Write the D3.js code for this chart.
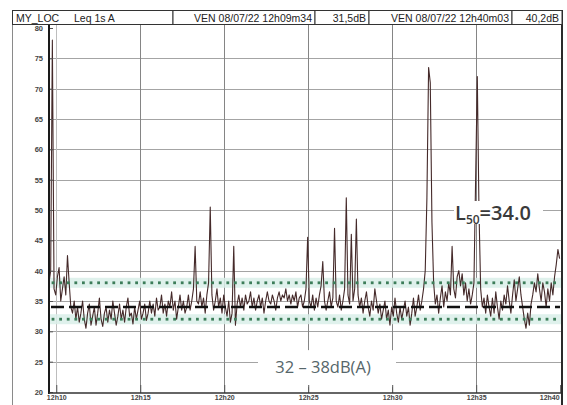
<!DOCTYPE html>
<html>
<head>
<meta charset="utf-8">
<script src="https://cdn.jsdelivr.net/npm/d3@7/dist/d3.min.js"></script>
<style>
  html, body { margin: 0; padding: 0; background: #fff; }
  svg { display: block; }
</style>
</head>
<body>
<svg id="chart" width="567" height="405"></svg>
<script>
// ---- data ----
const headerLabels = ["MY_LOC", "Leq 1s  A", "VEN 08/07/22 12h09m34", "31,5dB", "VEN 08/07/22 12h40m03", "40,2dB"];
const startClock = "12:09:34";
const endClock = "12:40:03";
const stepSeconds = 6;
const yTickValues = [20, 25, 30, 35, 40, 45, 50, 55, 60, 65, 70, 75, 80];
const xTickClocks = ["12:10", "12:15", "12:20", "12:25", "12:30", "12:35", "12:40"];
const xTickLabels = ["12h10", "12h15", "12h20", "12h25", "12h30", "12h35", "12h40"];
const l50Value = 34.0;
const bandRange = [32, 38];
const bandLabel = "32 – 38dB(A)";

// Leq 1s level (dB A), one reading every stepSeconds from startClock
const leqValues = [
  38, 40, 78, 37, 36, 39, 40.5, 35, 37, 39, 36, 42.5, 38, 34, 33, 35, 32, 34, 31.5, 33,
  35, 32, 30.5, 33, 34.5, 31, 32.5, 34, 31, 33, 35.5, 32, 30.8, 33, 34, 31.5, 33.5, 32, 35, 33,
  31, 32.5, 34.5, 32, 33.5, 31.5, 34, 35.5, 32.5, 33, 31.2, 34, 32, 33.5, 35, 32, 33, 34.5, 31.8, 33,
  35, 33, 34.5, 32.5, 35.5, 33.5, 34, 36, 33, 34.5, 32.5, 35, 34, 36.5, 33.5, 35, 32, 34, 36, 33.5,
  35, 33, 34, 36, 33.5, 35, 37, 44, 35, 34.5, 36.5, 34, 35.5, 33, 36, 38, 50.5, 36, 33.5, 35,
  37, 34, 35.5, 33, 36, 34, 32.5, 35, 31.5, 33, 44, 31, 34.5, 36, 34, 35.5, 33.5, 36, 34.5, 35,
  36.5, 34, 35.5, 33.5, 35, 36, 34, 35.5, 33, 35, 36.5, 35, 34.5, 36, 35, 33.5, 35.5, 36.5, 35, 36,
  35.5, 37, 35, 36, 34.5, 36, 35, 36.5, 34, 35.5, 36, 34, 35, 37, 45.5, 35, 34, 36, 33.5, 35.5,
  34, 36, 37.5, 41.5, 35, 33.5, 35, 36.5, 34, 35.5, 47, 35, 34, 36, 33.5, 35, 37, 52, 36, 34.5,
  46, 35, 37, 48.5, 36, 34, 35.5, 33, 35, 36.5, 34, 32.5, 35, 33.5, 37, 35, 33, 34.5, 32, 33.5,
  35, 32, 33.5, 31, 34, 32.5, 35.5, 33, 31.5, 34, 32, 33.5, 35, 32.5, 34, 31, 33, 35.5, 32.5, 34,
  36, 33.5, 35, 37, 40, 52, 73.5, 71, 48, 38, 34.5, 36, 33, 35.5, 37.5, 34, 36.5, 35, 38, 36,
  44, 37, 35.5, 39, 40, 37.5, 39.5, 36, 38, 35, 37, 34.5, 36, 38, 55, 72, 50, 37, 34, 35.5,
  33, 36, 34, 32.5, 35.5, 33, 36.5, 34, 32, 35, 33.5, 36, 34.5, 37.5, 35, 33, 36, 38.5, 35, 37,
  39, 36, 34, 32, 30.5, 33, 31, 34.5, 36, 38, 36.5, 39.5, 37, 35, 38, 36.5, 34, 37, 35, 38,
  36, 39, 41, 43.5, 42
];

// ---- layout ----
const svg = d3.select("#chart");
const plot = { left: 49, right: 562, top: 25, bottom: 393 };
const parseClock = d3.timeParse("%H:%M:%S");
const parseTick = d3.timeParse("%H:%M");
const t0 = parseClock(startClock);
const t1 = parseClock(endClock);

const x = d3.scaleTime().domain([t0, t1]).range([plot.left, plot.right - 1]);
const y = d3.scaleLinear().domain([20, 80]).range([392, 28]);

const series = leqValues.map((v, i) => ({ t: new Date(t0.getTime() + i * stepSeconds * 1000), v }));
const xTicks = xTickClocks.map(parseTick);

svg.append("rect").attr("width", 567).attr("height", 405).attr("fill", "#fff");

// ---- grid ----
const grid = svg.append("g");
grid.selectAll("line.h").data(yTickValues.filter(v => v > 20 && v < 80)).join("line")
  .attr("x1", plot.left).attr("x2", plot.right)
  .attr("y1", d => Math.round(y(d)) + 0.5).attr("y2", d => Math.round(y(d)) + 0.5)
  .attr("stroke", "#a4a4a4").attr("stroke-width", 1);
grid.selectAll("line.v").data(xTicks.slice(0, -1)).join("line")
  .attr("x1", d => Math.round(x(d)) + 0.5).attr("x2", d => Math.round(x(d)) + 0.5)
  .attr("y1", plot.top).attr("y2", plot.bottom)
  .attr("stroke", (d, i) => i === 0 ? "#bdbdbd" : "#858585").attr("stroke-width", 1);

// ---- band halo behind the dotted limits ----
const band = svg.append("g");
band.selectAll("rect").data(bandRange).join("rect")
  .attr("x", plot.left + 1).attr("width", plot.right - plot.left - 2)
  .attr("y", d => y(d) - 5).attr("height", 10)
  .attr("fill", "#d9efe9").attr("opacity", 0.85);

// ---- level trace ----
const line = d3.line().x(d => x(d.t)).y(d => y(d.v));
svg.append("path").datum(series)
  .attr("d", line)
  .attr("fill", "none")
  .attr("stroke", "#452a2a")
  .attr("stroke-width", 1.1)
  .attr("stroke-linejoin", "round");

// ---- L50 dashed level ----
svg.append("line")
  .attr("x1", plot.left + 2).attr("x2", plot.right - 2)
  .attr("y1", y(l50Value)).attr("y2", y(l50Value))
  .attr("stroke", "#111").attr("stroke-width", 2.4)
  .attr("stroke-dasharray", "13,5");

// ---- dotted band limits ----
const dots = svg.append("g");
const dotStep = 7.6;
bandRange.forEach(v => {
  const xs = d3.range(plot.left + 4, plot.right - 2, dotStep);
  dots.selectAll(null).data(xs).join("rect")
    .attr("x", d => d - 1.4).attr("y", y(v) - 1.4)
    .attr("width", 2.8).attr("height", 2.8)
    .attr("fill", "#3c7d59");
});

// ---- annotations ----
const bandText = svg.append("g").attr("transform", `translate(323,${y(24.1)})`);
bandText.append("rect").attr("x", -65).attr("y", -17).attr("width", 138).attr("height", 37).attr("fill", "#fff");
bandText.append("text")
  .attr("text-anchor", "middle").attr("y", 6)
  .attr("font-family", "'Open Sans', 'Noto Sans', sans-serif")
  .attr("font-size", 16.5).attr("fill", "#56666a")
  .text(bandLabel);

const l50Text = svg.append("g").attr("transform", "translate(455,220)");
l50Text.append("rect").attr("x", -1).attr("y", -19).attr("width", 89).attr("height", 23).attr("fill", "#fff");
const lt = l50Text.append("text")
  .attr("font-family", "'Open Sans', 'Noto Sans', sans-serif")
  .attr("font-size", 20).attr("font-weight", 600).attr("fill", "#3a3a3a");
lt.append("tspan").text("L");
lt.append("tspan").attr("font-size", 12).attr("dy", 4).text("50");
lt.append("tspan").attr("dy", -4).text("=" + l50Value.toFixed(1));

// ---- axes ----
const yAxis = d3.axisLeft(y).tickValues(yTickValues).tickSize(-4).tickPadding(6);
const gy = svg.append("g").attr("transform", `translate(${plot.left},0)`).call(yAxis);
gy.select(".domain").remove();
gy.selectAll("line").attr("stroke", "#555");
gy.selectAll("text")
  .attr("font-family", "'Liberation Sans', Arial, sans-serif")
  .attr("font-size", 7.5).attr("font-weight", "bold").attr("fill", "#444");

const xAxis = d3.axisBottom(x).tickValues(xTicks).tickFormat((d, i) => xTickLabels[i]).tickSize(-8).tickPadding(2);
const gx = svg.append("g").attr("transform", `translate(0,${plot.bottom})`).call(xAxis);
gx.select(".domain").remove();
gx.selectAll("line").attr("stroke", "#555");
gx.selectAll("text")
  .attr("font-family", "'Liberation Sans', Arial, sans-serif")
  .attr("font-size", 7).attr("font-weight", "bold").attr("fill", "#444");
gx.selectAll(".tick:last-child text").attr("text-anchor", "end").attr("dx", -1);

// axis lines and frame
svg.append("line").attr("x1", plot.left).attr("x2", plot.left).attr("y1", plot.top).attr("y2", plot.bottom + 1)
  .attr("stroke", "#1a1a1a").attr("stroke-width", 2);
svg.append("line").attr("x1", plot.left).attr("x2", plot.right).attr("y1", plot.bottom).attr("y2", plot.bottom)
  .attr("stroke", "#333").attr("stroke-width", 1.6);
svg.append("line").attr("x1", plot.right).attr("x2", plot.right).attr("y1", 10).attr("y2", 405)
  .attr("stroke", "#2a2a2a").attr("stroke-width", 2);
svg.append("line").attr("x1", 12.5).attr("x2", 12.5).attr("y1", 10).attr("y2", 405)
  .attr("stroke", "#8a8a8a").attr("stroke-width", 1);

// ---- header strip ----
const header = svg.append("g");
const cellEdges = [12.5, 173, 315, 369, 512, plot.right];
header.selectAll("rect").data(d3.pairs(cellEdges)).join("rect")
  .attr("x", d => d[0]).attr("y", 10.5).attr("width", d => d[1] - d[0]).attr("height", 14)
  .attr("fill", "#fff").attr("stroke", "#333").attr("stroke-width", 1);
const hFont = "'Liberation Sans', Arial, sans-serif";
header.append("text").attr("x", 16).attr("y", 21.5).attr("font-family", hFont).attr("font-size", 10.5).attr("fill", "#222").text(headerLabels[0]);
header.append("text").attr("x", 74).attr("y", 21.5).attr("font-family", hFont).attr("font-size", 10.5).attr("fill", "#222").text(headerLabels[1]);
[2, 3, 4, 5].forEach((k, j) => {
  header.append("text")
    .attr("x", cellEdges[j + 2] - 3).attr("y", 21.5)
    .attr("text-anchor", "end")
    .attr("font-family", hFont).attr("font-size", 10.5).attr("fill", "#222")
    .text(headerLabels[k]);
});
</script>
</body>
</html>
